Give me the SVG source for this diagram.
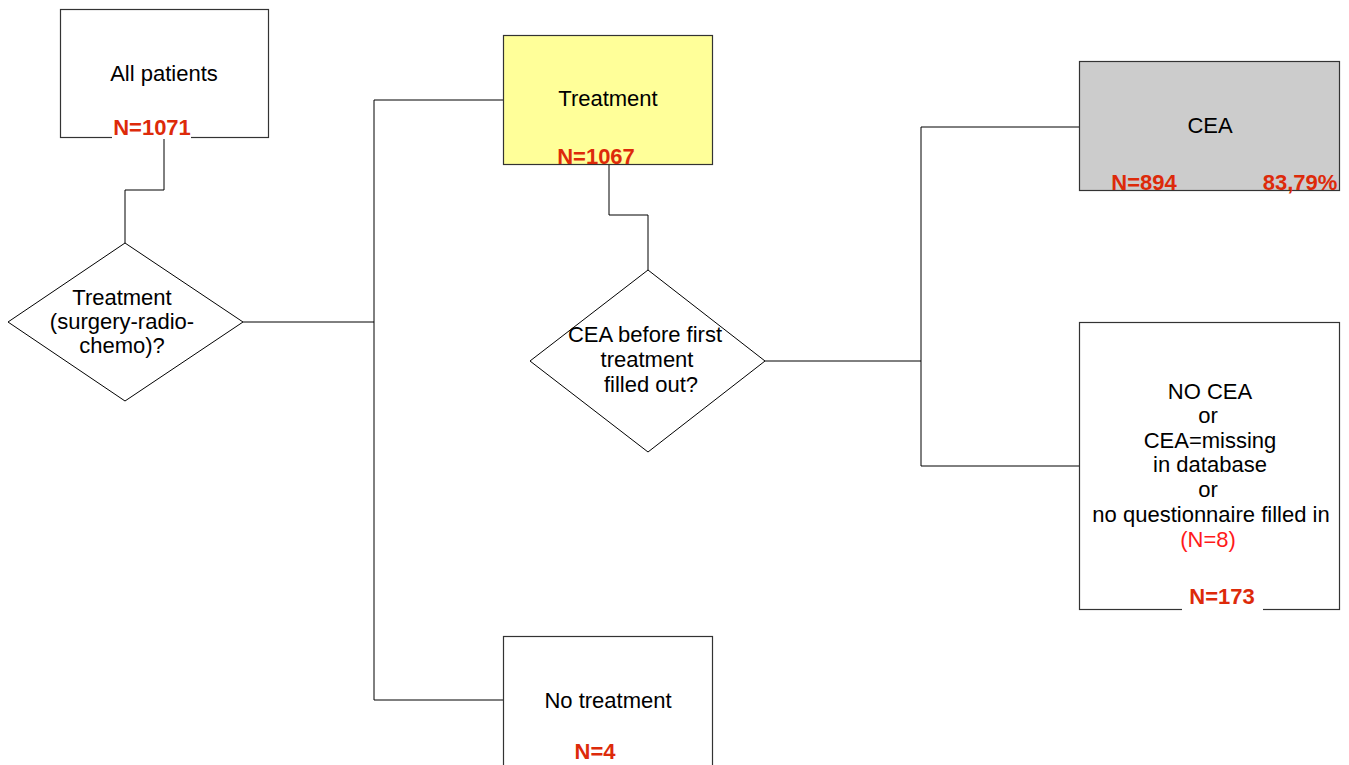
<svg xmlns="http://www.w3.org/2000/svg" width="1349" height="765" viewBox="0 0 1349 765">
<style>
.box{stroke:#333;stroke-width:1.2}
.dia{fill:#fff;stroke:#000;stroke-width:1}
.t{font-family:"Liberation Sans",Arial,sans-serif;font-size:22px;fill:#000;text-anchor:middle}
.n{font-family:"Liberation Sans",Arial,sans-serif;font-size:22px;font-weight:bold;fill:#dd2a0a;text-anchor:middle}
.r{fill:#ff1a1a}
.c{fill:none;stroke:#000;stroke-width:1}
</style>
<rect width="1349" height="765" fill="#fff"/>
<g id="connectors">
<polyline class="c" points="164,138 164,190 125,190 125,243"/>
<line class="c" x1="243" y1="322" x2="374" y2="322"/>
<polyline class="c" points="503,100 374,100 374,700 503,700"/>
<polyline class="c" points="609,165 609,215 648,215 648,270"/>
<line class="c" x1="765" y1="361" x2="921" y2="361"/>
<polyline class="c" points="1079,127 921,127 921,466 1079,466"/>
</g>
<g id="all-patients">
<rect class="box" x="60.5" y="9.5" width="208" height="128" fill="#fff"/>
<rect x="112" y="117" width="79" height="22" fill="#fff"/>
<text class="t" x="164" y="81">All patients</text>
<text class="n" x="152" y="135">N=1071</text>
</g>
<g id="decision-treatment">
<polygon class="dia" points="125,243 243,322 125,401 8,322"/>
<text class="t" x="122" y="305">Treatment</text>
<text class="t" x="122" y="329">(surgery-radio-</text>
<text class="t" x="122" y="353">chemo)?</text>
</g>
<g id="treatment">
<rect class="box" x="503.5" y="35.5" width="209" height="129" fill="#ffff99"/>
<text class="t" x="608" y="106">Treatment</text>
<text class="n" x="596" y="164">N=1067</text>
</g>
<g id="no-treatment">
<rect class="box" x="503.5" y="636.5" width="209" height="140" fill="#fff"/>
<text class="t" x="608" y="708">No treatment</text>
<text class="n" x="595" y="759">N=4</text>
</g>
<g id="decision-cea">
<polygon class="dia" points="648,270 765,361 648,452 530,361"/>
<text class="t" x="645" y="342">CEA before first</text>
<text class="t" x="647" y="367">treatment</text>
<text class="t" x="651" y="392">filled out?</text>
</g>
<g id="cea">
<rect class="box" x="1079.5" y="61.5" width="260" height="129" fill="#cccccc"/>
<text class="t" x="1210" y="133">CEA</text>
<text class="n" x="1144" y="190">N=894</text>
<text class="n" x="1300" y="190">83,79%</text>
</g>
<g id="no-cea">
<rect class="box" x="1079.5" y="322.5" width="260" height="287" fill="#fff"/>
<rect x="1182" y="590" width="81" height="22" fill="#fff"/>
<text class="t" x="1210" y="399">NO CEA</text>
<text class="t" x="1208" y="423">or</text>
<text class="t" x="1210" y="448">CEA=missing</text>
<text class="t" x="1210" y="472">in database</text>
<text class="t" x="1208" y="497">or</text>
<text class="t" x="1211" y="522">no questionnaire filled in</text>
<text class="t r" x="1208" y="547">(N=8)</text>
<text class="n" x="1222" y="604">N=173</text>
</g>
</svg>
